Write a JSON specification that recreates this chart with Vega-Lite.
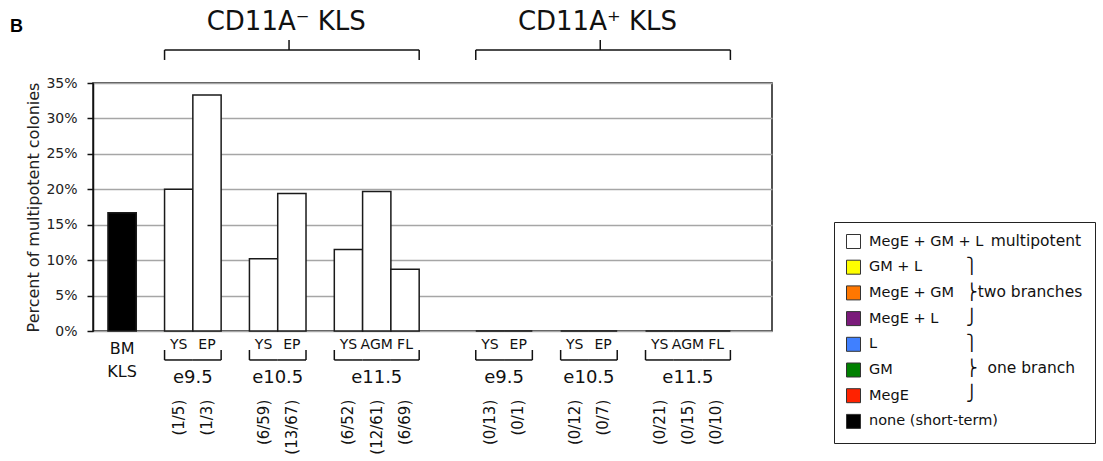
{
  "$schema": "https://vega.github.io/schema/vega-lite/v6.json",
  "width": 679,
  "height": 248,
  "autosize": {"type": "none"},
  "padding": {"left": 93, "top": 83, "right": 331, "bottom": 130},
  "background": "white",
  "title": {"text": "B", "anchor": "start", "frame": "group", "font": "Liberation Sans", "fontSize": 18, "fontWeight": "bold", "color": "#000", "dx": -83, "dy": 27, "offset": 0},
  "config": {
    "view": {"stroke": "#1a1a1a", "strokeWidth": 1.5},
    "font": "DejaVu Sans",
    "text": {"font": "DejaVu Sans", "color": "#111"}
  },
  "data": {"values": [
    {"bar": "BM KLS", "section": "BM KLS", "stage": "", "tissue": "BM KLS", "frac": "", "pct": 0.167, "fate": "none (short-term)"},
    {"bar": "CD11A⁻ e9.5 YS", "section": "CD11A⁻ KLS", "stage": "e9.5", "tissue": "YS", "frac": "(1/5)", "pct": 0.2, "fate": "MegE + GM + L"},
    {"bar": "CD11A⁻ e9.5 EP", "section": "CD11A⁻ KLS", "stage": "e9.5", "tissue": "EP", "frac": "(1/3)", "pct": 0.333, "fate": "MegE + GM + L"},
    {"bar": "CD11A⁻ e10.5 YS", "section": "CD11A⁻ KLS", "stage": "e10.5", "tissue": "YS", "frac": "(6/59)", "pct": 0.102, "fate": "MegE + GM + L"},
    {"bar": "CD11A⁻ e10.5 EP", "section": "CD11A⁻ KLS", "stage": "e10.5", "tissue": "EP", "frac": "(13/67)", "pct": 0.194, "fate": "MegE + GM + L"},
    {"bar": "CD11A⁻ e11.5 YS", "section": "CD11A⁻ KLS", "stage": "e11.5", "tissue": "YS", "frac": "(6/52)", "pct": 0.115, "fate": "MegE + GM + L"},
    {"bar": "CD11A⁻ e11.5 AGM", "section": "CD11A⁻ KLS", "stage": "e11.5", "tissue": "AGM", "frac": "(12/61)", "pct": 0.197, "fate": "MegE + GM + L"},
    {"bar": "CD11A⁻ e11.5 FL", "section": "CD11A⁻ KLS", "stage": "e11.5", "tissue": "FL", "frac": "(6/69)", "pct": 0.087, "fate": "MegE + GM + L"},
    {"bar": "CD11A⁺ e9.5 YS", "section": "CD11A⁺ KLS", "stage": "e9.5", "tissue": "YS", "frac": "(0/13)", "pct": 0, "fate": "MegE + GM + L"},
    {"bar": "CD11A⁺ e9.5 EP", "section": "CD11A⁺ KLS", "stage": "e9.5", "tissue": "EP", "frac": "(0/1)", "pct": 0, "fate": "MegE + GM + L"},
    {"bar": "CD11A⁺ e10.5 YS", "section": "CD11A⁺ KLS", "stage": "e10.5", "tissue": "YS", "frac": "(0/12)", "pct": 0, "fate": "MegE + GM + L"},
    {"bar": "CD11A⁺ e10.5 EP", "section": "CD11A⁺ KLS", "stage": "e10.5", "tissue": "EP", "frac": "(0/7)", "pct": 0, "fate": "MegE + GM + L"},
    {"bar": "CD11A⁺ e11.5 YS", "section": "CD11A⁺ KLS", "stage": "e11.5", "tissue": "YS", "frac": "(0/21)", "pct": 0, "fate": "MegE + GM + L"},
    {"bar": "CD11A⁺ e11.5 AGM", "section": "CD11A⁺ KLS", "stage": "e11.5", "tissue": "AGM", "frac": "(0/15)", "pct": 0, "fate": "MegE + GM + L"},
    {"bar": "CD11A⁺ e11.5 FL", "section": "CD11A⁺ KLS", "stage": "e11.5", "tissue": "FL", "frac": "(0/10)", "pct": 0, "fate": "MegE + GM + L"}
  ]},
  "resolve": {"scale": {"y": "independent"}, "axis": {"y": "independent"}},
  "layer": [
    {
      "mark": {"type": "bar", "stroke": "#1a1a1a", "strokeWidth": 1.5},
      "encoding": {
        "x": {"field": "bar", "type": "nominal", "axis": null, "scale": {"domain": ["BM KLS","gap a","CD11A⁻ e9.5 YS","CD11A⁻ e9.5 EP","gap b","CD11A⁻ e10.5 YS","CD11A⁻ e10.5 EP","gap c","CD11A⁻ e11.5 YS","CD11A⁻ e11.5 AGM","CD11A⁻ e11.5 FL","gap d","gap e","CD11A⁺ e9.5 YS","CD11A⁺ e9.5 EP","gap f","CD11A⁺ e10.5 YS","CD11A⁺ e10.5 EP","gap g","CD11A⁺ e11.5 YS","CD11A⁺ e11.5 AGM","CD11A⁺ e11.5 FL"], "paddingInner": 0, "paddingOuter": 1.3007, "align": 0.2646}},
        "y": {"field": "pct", "type": "quantitative", "scale": {"domain": [0, 0.35], "nice": false, "zero": true},
          "axis": {"values": [0, 0.05, 0.1, 0.15, 0.2, 0.25, 0.3, 0.35], "format": ".0%", "title": "Percent of multipotent colonies",
            "labelOverlap": false, "grid": true, "gridColor": "#a6a6a6", "gridWidth": 1.5,
            "labelFont": "DejaVu Sans", "labelFontSize": 14, "labelColor": "#222", "labelPadding": 10,
            "tickSize": 6, "tickColor": "#111", "tickWidth": 1.5, "domainColor": "#111", "domainWidth": 1.5,
            "titleFont": "DejaVu Sans", "titleFontSize": 16, "titleFontWeight": "normal", "titleColor": "#222", "titlePadding": 4}},
        "fill": {"field": "fate", "type": "nominal",
          "scale": {"domain": ["MegE + GM + L", "GM + L", "MegE + GM", "MegE + L", "L", "GM", "MegE", "none (short-term)"],
                    "range": ["#ffffff", "#ffff00", "#ff7700", "#7a1a7a", "#4080ff", "#008000", "#ff2200", "#000000"]},
          "legend": {"orient": "none", "legendX": 741, "legendY": 139, "strokeColor": "#222", "padding": 12,
            "symbolType": "square", "symbolSize": 196, "symbolStrokeColor": "#333", "symbolStrokeWidth": 1,
            "labelFont": "DejaVu Sans", "labelFontSize": 14.5, "labelColor": "#111", "labelOffset": 8, "labelLimit": 200, "rowPadding": 6.7,
            "title": ["\u200b\u00a0\u00a0\u00a0\u00a0\u00a0multipotent", "⎫", "⎬two branches", "⎭", "⎫", "⎬\u00a0\u00a0one branch", "⎭"],
            "titleOrient": "right", "titleAnchor": "start", "titleBaseline": "top", "titleAlign": "left", "titlePadding": -32,
            "titleFont": "DejaVu Sans", "titleFontSize": 15.5, "titleFontWeight": "normal", "titleColor": "#111", "titleLineHeight": 25.4, "titleLimit": 300}}
      }
    },
    {
      "layer": [
        {
          "transform": [{"filter": "datum.section != 'BM KLS'"}],
          "mark": {"type": "text", "fontSize": 14, "baseline": "middle", "align": "center"},
          "encoding": {
            "x": {"field": "bar", "type": "nominal", "axis": null},
            "y": {"datum": -0.0198, "axis": null, "scale": {"domain": [0, 0.35], "nice": false, "zero": false}},
            "text": {"field": "tissue"}
          }
        },
        {
          "transform": [{"filter": "datum.section == 'BM KLS'"}],
          "mark": {"type": "text", "fontSize": 16, "baseline": "middle", "align": "center", "lineBreak": " ", "lineHeight": 23},
          "encoding": {
            "x": {"field": "bar", "type": "nominal", "axis": null},
            "y": {"datum": -0.0254, "axis": null, "scale": {"domain": [0, 0.35], "nice": false, "zero": false}},
            "text": {"field": "tissue"}
          }
        },
        {
          "transform": [{"filter": "datum.section != 'BM KLS'"}],
          "mark": {"type": "rule", "color": "#111", "strokeWidth": 1.5},
          "encoding": {
            "x": {"field": "bar", "type": "nominal", "axis": null, "bandPosition": 0},
            "x2": {"field": "bar", "bandPosition": 1},
            "y": {"datum": -0.0409, "axis": null, "scale": {"domain": [0, 0.35], "nice": false, "zero": false}}
          }
        },
        {
          "transform": [{"filter": "datum.tissue == 'YS'"}],
          "mark": {"type": "rule", "color": "#111", "strokeWidth": 1.5},
          "encoding": {
            "x": {"field": "bar", "type": "nominal", "axis": null, "bandPosition": 0},
            "y": {"datum": -0.0409, "axis": null, "scale": {"domain": [0, 0.35], "nice": false, "zero": false}},
            "y2": {"datum": -0.0268}
          }
        },
        {
          "transform": [{"filter": "datum.tissue == 'EP' || datum.tissue == 'FL'"}],
          "mark": {"type": "rule", "color": "#111", "strokeWidth": 1.5},
          "encoding": {
            "x": {"field": "bar", "type": "nominal", "axis": null, "bandPosition": 1},
            "y": {"datum": -0.0409, "axis": null, "scale": {"domain": [0, 0.35], "nice": false, "zero": false}},
            "y2": {"datum": -0.0268}
          }
        },
        {
          "transform": [{"filter": "datum.tissue == 'YS' && datum.stage != 'e11.5'"}],
          "mark": {"type": "text", "fontSize": 18, "baseline": "middle", "align": "center"},
          "encoding": {
            "x": {"field": "bar", "type": "nominal", "axis": null, "bandPosition": 1},
            "y": {"datum": -0.0663, "axis": null, "scale": {"domain": [0, 0.35], "nice": false, "zero": false}},
            "text": {"field": "stage"}
          }
        },
        {
          "transform": [{"filter": "datum.tissue == 'AGM'"}],
          "mark": {"type": "text", "fontSize": 18, "baseline": "middle", "align": "center"},
          "encoding": {
            "x": {"field": "bar", "type": "nominal", "axis": null},
            "y": {"datum": -0.0663, "axis": null, "scale": {"domain": [0, 0.35], "nice": false, "zero": false}},
            "text": {"field": "stage"}
          }
        },
        {
          "transform": [{"filter": "datum.section != 'BM KLS'"}],
          "mark": {"type": "text", "fontSize": 15, "angle": 270, "baseline": "middle", "align": "right"},
          "encoding": {
            "x": {"field": "bar", "type": "nominal", "axis": null},
            "y": {"datum": -0.097, "axis": null, "scale": {"domain": [0, 0.35], "nice": false, "zero": false}},
            "text": {"field": "frac"}
          }
        },
        {
          "transform": [
            {"filter": "datum.section != 'BM KLS'"},
            {"window": [{"op": "first_value", "field": "bar", "as": "first"}, {"op": "last_value", "field": "bar", "as": "last"}], "groupby": ["section"], "frame": [null, null]},
            {"filter": "datum.tissue == 'AGM'"}
          ],
          "mark": {"type": "rule", "color": "#111", "strokeWidth": 1.5},
          "encoding": {
            "x": {"field": "first", "type": "nominal", "axis": null, "bandPosition": 0},
            "x2": {"field": "last", "bandPosition": 1},
            "y": {"datum": 0.3966, "axis": null, "scale": {"domain": [0, 0.35], "nice": false, "zero": false}}
          }
        },
        {
          "transform": [{"filter": "datum.tissue == 'YS' && datum.stage == 'e9.5'"}],
          "mark": {"type": "rule", "color": "#111", "strokeWidth": 1.5},
          "encoding": {
            "x": {"field": "bar", "type": "nominal", "axis": null, "bandPosition": 0},
            "y": {"datum": 0.3966, "axis": null, "scale": {"domain": [0, 0.35], "nice": false, "zero": false}},
            "y2": {"datum": 0.3825}
          }
        },
        {
          "transform": [{"filter": "datum.tissue == 'FL'"}],
          "mark": {"type": "rule", "color": "#111", "strokeWidth": 1.5},
          "encoding": {
            "x": {"field": "bar", "type": "nominal", "axis": null, "bandPosition": 1},
            "y": {"datum": 0.3966, "axis": null, "scale": {"domain": [0, 0.35], "nice": false, "zero": false}},
            "y2": {"datum": 0.3825}
          }
        },
        {
          "transform": [{"filter": "datum.tissue == 'EP' && datum.stage == 'e10.5'"}],
          "mark": {"type": "rule", "color": "#111", "strokeWidth": 1.5},
          "encoding": {
            "x": {"field": "bar", "type": "nominal", "axis": null, "bandPosition": 0.4},
            "y": {"datum": 0.3966, "axis": null, "scale": {"domain": [0, 0.35], "nice": false, "zero": false}},
            "y2": {"datum": 0.4107}
          }
        },
        {
          "transform": [{"filter": "datum.tissue == 'EP' && datum.stage == 'e10.5'"}],
          "mark": {"type": "text", "fontSize": 26, "baseline": "middle", "align": "center"},
          "encoding": {
            "x": {"field": "bar", "type": "nominal", "axis": null, "bandPosition": 0.3},
            "y": {"datum": 0.4354, "axis": null, "scale": {"domain": [0, 0.35], "nice": false, "zero": false}},
            "text": {"field": "section"}
          }
        }
      ]
    }
  ]
}
